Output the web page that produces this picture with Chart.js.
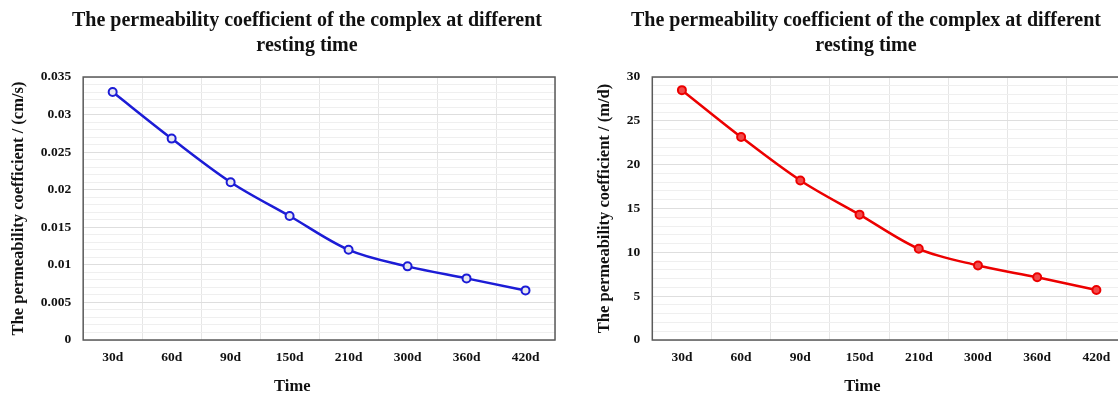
<!DOCTYPE html>
<html>
<head>
<meta charset="utf-8">
<script src="https://cdn.jsdelivr.net/npm/chart.js@4/dist/chart.umd.min.js"></script>
<style>
  body { margin: 0; background: #fff; overflow: hidden; width: 1118px; height: 397px; }
  .box { position: absolute; top: 0; height: 397px; }
  #leftBox { left: 0; width: 605px; }
  #rightBox { left: 586px; width: 551px; }
</style>
</head>
<body>
<div class="box" id="leftBox"><canvas id="chartLeft"></canvas></div>
<div class="box" id="rightBox"><canvas id="chartRight"></canvas></div>
<script>
// data
var restingTime = ['30d', '60d', '90d', '150d', '210d', '300d', '360d', '420d'];
var permCmPerS = [0.0330, 0.0268, 0.0210, 0.0165, 0.0120, 0.0098, 0.0082, 0.0066];
var permMPerD = [28.5, 23.15, 18.2, 14.3, 10.4, 8.5, 7.15, 5.7];
var titleLines = ['The permeability coefficient of the complex at different', 'resting time'];

var serif = "'Liberation Serif', 'Times New Roman', serif";

// box round the plot area, like the excel frame
var frame = {
  id: 'frame',
  afterDraw: function(chart) {
    var a = chart.chartArea, ctx = chart.ctx;
    ctx.save();
    ctx.strokeStyle = '#5a5a5a';
    ctx.lineWidth = 1.5;
    ctx.strokeRect(a.left, a.top, a.right - a.left, a.bottom - a.top);
    ctx.restore();
  }
};

function makeChart(id, values, color, fill, yMax, yMinor, yTitle, fmt, rightGap, tickPad) {
  return new Chart(document.getElementById(id), {
    type: 'line',
    data: {
      labels: restingTime,
      datasets: [{
        data: values,
        borderColor: color,
        borderWidth: 2.5,
        pointRadius: 4,
        pointBorderWidth: 2,
        pointBackgroundColor: fill,
        pointBorderColor: color,
        cubicInterpolationMode: 'monotone'
      }]
    },
    options: {
      responsive: true,
      maintainAspectRatio: false,
      animation: false,
      layout: { padding: { left: 9, right: 0, top: 0, bottom: 0 } },
      plugins: {
        legend: { display: false },
        tooltip: { enabled: false },
        title: {
          display: true,
          text: titleLines,
          color: '#111',
          font: { family: serif, size: 20, weight: 'bold', lineHeight: 1.25 },
          padding: { top: 8, bottom: 19 }
        }
      },
      scales: {
        x: {
          offset: true,
          grid: { offset: true, color: '#e6e6e6', drawTicks: false },
          border: { display: false },
          ticks: { color: '#111', padding: 9, font: { family: serif, size: 13.5, weight: 'bold' } },
          title: {
            display: true,
            // trailing spaces push the word a little left of centre, as in the figure
            text: 'Time             ',
            color: '#111',
            font: { family: serif, size: 16.5, weight: 'bold' },
            padding: { top: 3, bottom: 0 }
          }
        },
        y: {
          min: 0,
          max: yMax,
          grid: {
            drawTicks: false,
            color: function(c) { return c.index % 5 === 0 ? '#dedede' : '#efefef'; }
          },
          border: { display: false },
          ticks: {
            stepSize: yMinor,
            autoSkip: false,
            padding: tickPad,
            color: '#111',
            font: { family: serif, size: 13.5, weight: 'bold' },
            callback: function(v, i) { return i % 5 === 0 ? fmt(v) : ''; }
          },
          title: {
            display: true, text: yTitle, color: '#111',
            font: { family: serif, size: 16.5, weight: 'bold' },
            padding: { top: 0, bottom: 0 }
          }
        },
        // empty strip right of the plot, so the title stays centred on the whole figure
        gap: {
          type: 'linear',
          position: 'right',
          grid: { display: false },
          border: { display: false },
          ticks: { display: false },
          afterFit: function(s) { s.width = rightGap; }
        }
      }
    },
    plugins: [frame]
  });
}

makeChart('chartLeft', permCmPerS, '#1c1cd6', '#e8e8f0', 0.035, 0.001,
  'The permeability coefficient / (cm/s)',
  function(v) { return String(Number(v.toFixed(3))); }, 50, 12);
makeChart('chartRight', permMPerD, '#ec0000', '#f24a4a', 30, 1,
  'The permeability coefficient / (m/d)',
  function(v) { return String(Math.round(v)); }, 11, 12);
</script>
</body>
</html>
